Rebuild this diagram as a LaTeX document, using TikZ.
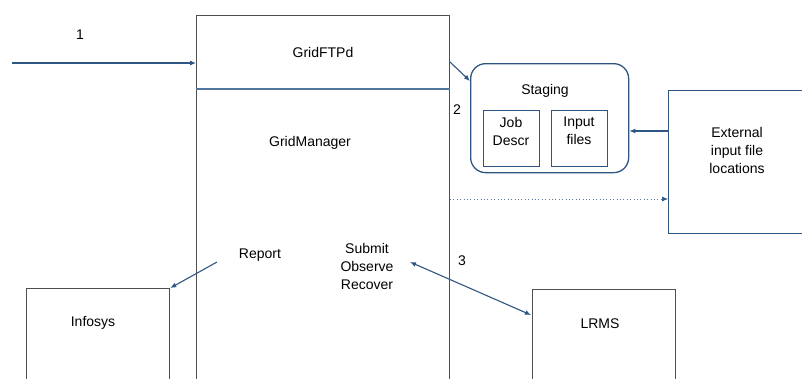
\documentclass[tikz,border=0pt]{standalone}
\usepackage{fontspec}
\setmainfont{Liberation Sans}
\usetikzlibrary{arrows.meta}
\definecolor{lineblue}{RGB}{46,86,130}
\definecolor{divblue}{RGB}{80,118,158}
\definecolor{dotblue}{RGB}{90,120,155}
\definecolor{boxgray}{RGB}{80,80,80}
\tikzset{
  graybox/.style={draw=boxgray, line width=1.3pt, anchor=north west, inner sep=0pt},
  bluebox/.style={draw=lineblue, line width=1.3pt, anchor=north west, inner sep=0pt},
  lbl/.style={font=\fontsize{14}{18}\selectfont, align=center, inner sep=0pt},
  arr/.style={draw=lineblue, line width=1.1pt, -{Latex[length=6pt,width=5pt]}},
  dotarr/.style={draw=dotblue, line width=0.7pt, dash pattern=on 0.8pt off 2.6pt,
    -{Latex[length=6pt,width=5pt,fill=lineblue,color=lineblue]}},
}
\begin{document}
\begin{tikzpicture}[x=1pt,y=-1pt]
\useasboundingbox (0,0) rectangle (802,378);
\clip (0,0) rectangle (802,378);
% boxes
\node[graybox, minimum width=253pt, minimum height=400pt] (gm) at (196,15) {};
\node[graybox, minimum width=143pt, minimum height=120pt] (info) at (26,288) {};
\node[graybox, minimum width=143pt, minimum height=120pt] (lrms) at (532,289) {};
\node[bluebox, minimum width=150pt, minimum height=143pt] (ext) at (668,90) {};
\node[bluebox, rounded corners=15pt, minimum width=158pt, minimum height=109pt] (stg) at (470,63) {};
\node[bluebox, minimum width=56pt, minimum height=56pt] (job) at (483,110) {};
\node[bluebox, minimum width=56pt, minimum height=56pt] (inp) at (551,110) {};
% divider
\draw[divblue, line width=2pt] (gm.west |- 0,89) -- (gm.east |- 0,89);
% texts
\node[lbl] (t1) at (80,35) {1};
\node[lbl] (tftp) at (323,52) {GridFTPd};
\node[lbl] (tgm) at (310,143) {GridManager};
\node[lbl] (tstg) at (545,91) {Staging};
\node[lbl] (tjob) at (511,131) {Job\\Descr};
\node[lbl] (tinp) at (579,131) {Input\\files};
\node[lbl] (text) at (737,150) {External\\input file\\locations};
\node[lbl] (t2) at (457,110) {2};
\node[lbl] (t3) at (462,261) {3};
\node[lbl] (trep) at (260,255) {Report};
\node[lbl] (tsub) at (367,266) {Submit\\Observe\\Recover};
\node[lbl] (tinfo) at (93,323) {Infosys};
\node[lbl] (tlrms) at (600,324) {LRMS};
% connectors
\coordinate (in1) at (12,63);
\draw[arr] (in1) -- (gm.west |- in1);
\coordinate (s2) at (450,62);
\draw[arr] (s2) -- (stg.west |- 0,81);
\coordinate (e1) at (668,131);
\draw[arr] (e1) -- (stg.east |- e1);
\coordinate (d1) at (450,199);
\draw[dotarr] (d1) -- (ext.west |- d1);
\coordinate (r1) at (217,262);
\draw[arr] (r1) -- (info.north east);
\coordinate (a3) at (410,262);
\draw[arr, {Latex[length=6pt,width=5pt]}-{Latex[length=6pt,width=5pt]}] (a3) -- (531,315);
\end{tikzpicture}
\end{document}
